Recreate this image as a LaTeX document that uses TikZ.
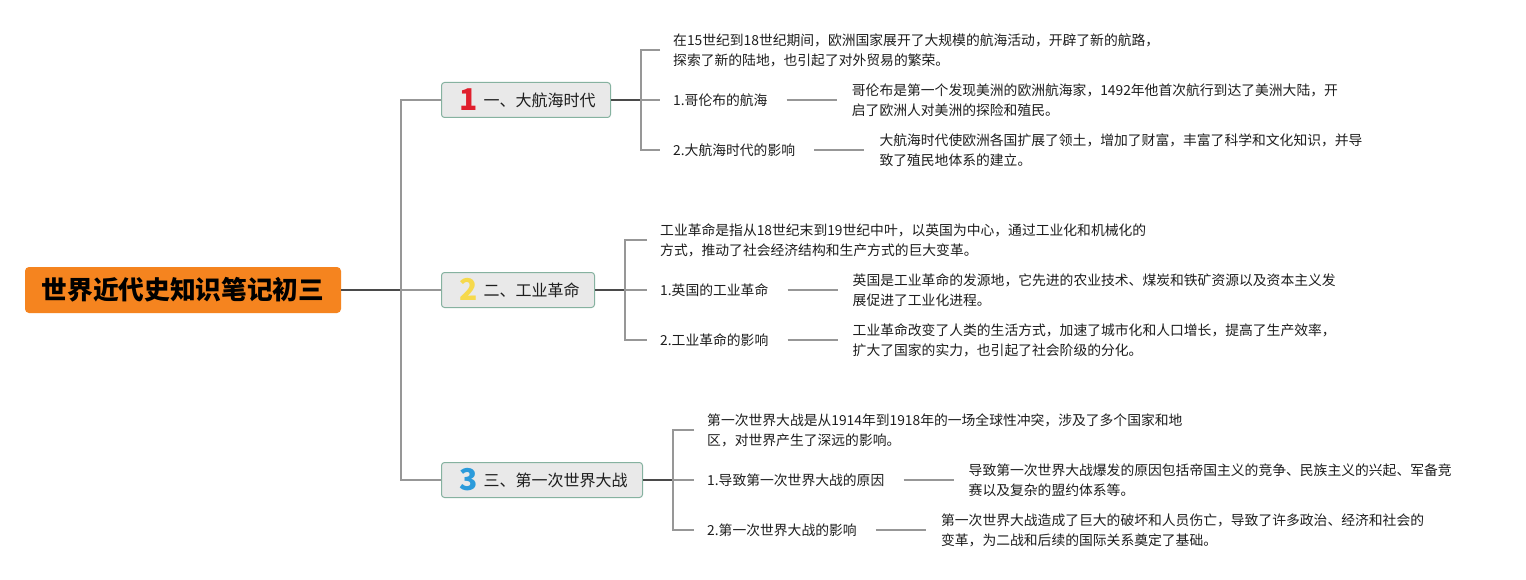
\documentclass[tikz,border=0pt]{standalone}
\usepackage{fontspec}
\setmainfont{Noto Sans CJK SC}
\newfontfamily\cjk{Noto Sans CJK SC}
\definecolor{rootor}{HTML}{F5841F}
\definecolor{brfill}{HTML}{E9E9E9}
\definecolor{brborder}{HTML}{86B2A0}
\definecolor{dk}{HTML}{4A4A4A}
\definecolor{gy}{HTML}{979797}
\definecolor{txt}{HTML}{1E1E1E}
\definecolor{icone}{HTML}{E01F2D}
\definecolor{icontwo}{HTML}{F6D94C}
\definecolor{iconthree}{HTML}{2B9BDB}
\newcommand\brico[2]{\hspace*{22pt}\makebox[10pt]{\smash{\raisebox{-4pt}{\textcolor{#1}{\fontsize{30}{30}\selectfont\bfseries #2}}}}\hspace*{10pt}}
\tikzset{
  rootbox/.style={fill=rootor, rounded corners=4pt, minimum width=316pt, minimum height=46pt, inner sep=0pt, text=black, font=\cjk\bfseries\fontsize{25.7}{30}\selectfont},
  branchbox/.style={draw=brborder, fill=brfill, line width=1pt, rounded corners=3pt, minimum height=35pt, inner sep=0pt, anchor=west, font=\cjk\fontsize{16}{19}\selectfont, text=txt},
  intro/.style={anchor=west, inner sep=0pt, align=left, font=\cjk\fontsize{13.8}{20}\selectfont, text=txt},
  lab/.style={anchor=west, inner sep=0pt, font=\cjk\fontsize{13.8}{20}\selectfont, text=txt},
  detail/.style={anchor=west, inner sep=0pt, align=left, font=\cjk\fontsize{13.8}{20}\selectfont, text=txt},
  darkline/.style={draw=dk, line width=1.7pt},
  grayline/.style={draw=gy, line width=1.7pt},
  leafline/.style={draw=gy, line width=1.8pt, shorten <=19pt, shorten >=15pt},
}
\begin{document}
\begin{tikzpicture}[x=1pt,y=-1pt]
\useasboundingbox (0,0) rectangle (1526,580);
\fill[white] (0,0) rectangle (1526,580);

% root and branches
\node[rootbox] (root) at (183,290) {世界近代史知识笔记初三};
\node[branchbox] (b1) at (441,100) {\brico{icone}{1}一、大航海时代\hspace*{15pt}};
\node[branchbox] (b2) at (441,290) {\brico{icontwo}{2}二、工业革命\hspace*{15pt}};
\node[branchbox] (b3) at (441,480) {\brico{iconthree}{3}三、第一次世界大战\hspace*{15pt}};
\coordinate (t) at (401,290);
\draw[darkline] (root.east) -- (t);
\draw[grayline] (b1.west) -| (t) |- (b3.west);
\draw[grayline] (t) -- (b2.west);

% branch 1
\coordinate (k1) at (641,100);
\node[intro] (i1) at (673,50) {在15世纪到18世纪期间，欧洲国家展开了大规模的航海活动，开辟了新的航路，\\探索了新的陆地，也引起了对外贸易的繁荣。};
\node[lab] (l11) at (673,100) {1.哥伦布的航海};
\node[lab] (l12) at (673,150) {2.大航海时代的影响};
\node[detail] (d11) at ([xshift=84pt]l11.east) {哥伦布是第一个发现美洲的欧洲航海家，1492年他首次航行到达了美洲大陆，开\\启了欧洲人对美洲的探险和殖民。};
\node[detail] (d12) at ([xshift=84pt]l12.east) {大航海时代使欧洲各国扩展了领土，增加了财富，丰富了科学和文化知识，并导\\致了殖民地体系的建立。};
\draw[darkline] (b1.east) -- (k1);
\draw[grayline, shorten <=13pt, shorten >=13pt] (i1.west) -| (k1) |- (l12.west);
\draw[grayline, shorten >=13pt] (k1) -- (l11.west);
\draw[leafline] (l11.east) -- (d11.west);
\draw[leafline] (l12.east) -- (d12.west);

% branch 2
\coordinate (k2) at (625,290);
\node[intro] (i2) at (660,240) {工业革命是指从18世纪末到19世纪中叶，以英国为中心，通过工业化和机械化的\\方式，推动了社会经济结构和生产方式的巨大变革。};
\node[lab] (l21) at (660,290) {1.英国的工业革命};
\node[lab] (l22) at (660,340) {2.工业革命的影响};
\node[detail] (d21) at ([xshift=84pt]l21.east) {英国是工业革命的发源地，它先进的农业技术、煤炭和铁矿资源以及资本主义发\\展促进了工业化进程。};
\node[detail] (d22) at ([xshift=84pt]l22.east) {工业革命改变了人类的生活方式，加速了城市化和人口增长，提高了生产效率，\\扩大了国家的实力，也引起了社会阶级的分化。};
\draw[darkline] (b2.east) -- (k2);
\draw[grayline, shorten <=13pt, shorten >=13pt] (i2.west) -| (k2) |- (l22.west);
\draw[grayline, shorten >=13pt] (k2) -- (l21.west);
\draw[leafline] (l21.east) -- (d21.west);
\draw[leafline] (l22.east) -- (d22.west);

% branch 3
\coordinate (k3) at (673,480);
\node[intro] (i3) at (707,430) {第一次世界大战是从1914年到1918年的一场全球性冲突，涉及了多个国家和地\\区，对世界产生了深远的影响。};
\node[lab] (l31) at (707,480) {1.导致第一次世界大战的原因};
\node[lab] (l32) at (707,530) {2.第一次世界大战的影响};
\node[detail] (d31) at ([xshift=84pt]l31.east) {导致第一次世界大战爆发的原因包括帝国主义的竞争、民族主义的兴起、军备竞\\赛以及复杂的盟约体系等。};
\node[detail] (d32) at ([xshift=84pt]l32.east) {第一次世界大战造成了巨大的破坏和人员伤亡，导致了许多政治、经济和社会的\\变革，为二战和后续的国际关系奠定了基础。};
\draw[darkline] (b3.east) -- (k3);
\draw[grayline, shorten <=13pt, shorten >=13pt] (i3.west) -| (k3) |- (l32.west);
\draw[grayline, shorten >=13pt] (k3) -- (l31.west);
\draw[leafline] (l31.east) -- (d31.west);
\draw[leafline] (l32.east) -- (d32.west);
\end{tikzpicture}
\end{document}
